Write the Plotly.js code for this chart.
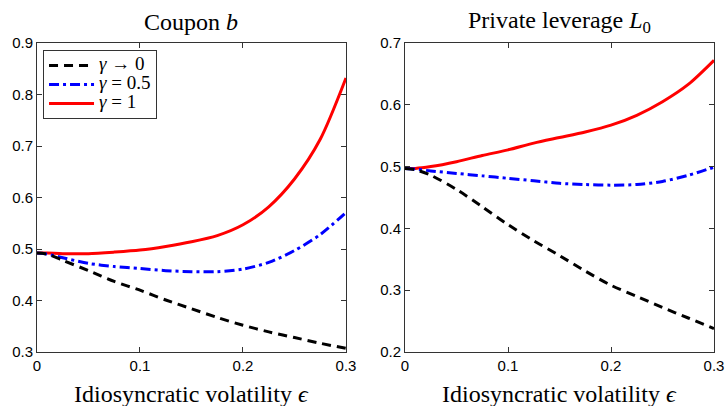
<!DOCTYPE html>
<html>
<head>
<meta charset="utf-8">
<script src="https://cdn.plot.ly/plotly-3.0.1.min.js"></script>
<style>html,body{margin:0;padding:0;background:#fff;}#chart{width:725px;height:406px;}</style>
</head>
<body>
<div id="chart"></div>
<script>
// Idiosyncratic volatility epsilon
const eps = [0, 0.01, 0.025, 0.05, 0.075, 0.1, 0.125, 0.15, 0.175, 0.2, 0.225, 0.25, 0.275, 0.3];

// Coupon b
const couponGamma0  = [0.492, 0.490, 0.478, 0.458, 0.437, 0.420, 0.401, 0.384, 0.367, 0.352, 0.339, 0.328, 0.317, 0.307];
const couponGamma05 = [0.492, 0.490, 0.483, 0.472, 0.466, 0.462, 0.458, 0.456, 0.456, 0.461, 0.474, 0.497, 0.528, 0.571];
const couponGamma1  = [0.492, 0.492, 0.491, 0.491, 0.494, 0.498, 0.505, 0.514, 0.526, 0.547, 0.582, 0.636, 0.713, 0.832];

// Private leverage L0
const levGamma0  = [0.497, 0.495, 0.486, 0.463, 0.435, 0.406, 0.380, 0.356, 0.331, 0.308, 0.290, 0.272, 0.255, 0.238];
const levGamma05 = [0.497, 0.496, 0.493, 0.489, 0.485, 0.481, 0.477, 0.473, 0.471, 0.470, 0.471, 0.476, 0.486, 0.499];
const levGamma1  = [0.497, 0.497, 0.500, 0.508, 0.518, 0.527, 0.538, 0.547, 0.556, 0.567, 0.583, 0.605, 0.633, 0.672];

const seriesNames = ['<i>γ</i> → 0', '<i>γ</i> = 0.5', '<i>γ</i> = 1'];
const panelTitles = ['Coupon <i>b</i>', 'Private leverage <i>L</i><sub>0</sub>'];
const xTitle = 'Idiosyncratic volatility <i>ϵ</i>';
const xTickVals = [0, 0.1, 0.2, 0.3];
const xTickText = ['0', '0.1', '0.2', '0.3'];
const yLeftTickVals = [0.3, 0.4, 0.5, 0.6, 0.7, 0.8, 0.9];
const yLeftTickText = ['0.3', '0.4', '0.5', '0.6', '0.7', '0.8', '0.9'];
const yRightTickVals = [0.2, 0.3, 0.4, 0.5, 0.6, 0.7];
const yRightTickText = ['0.2', '0.3', '0.4', '0.5', '0.6', '0.7'];

const styles = [
  {color: '#000000', width: 3, dash: '9px,6px'},
  {color: '#0000ff', width: 3, dash: '10px,4px,3px,4px'},
  {color: '#ff0000', width: 3, dash: 'solid'}
];

function mk(y, i, xa, ya, show) {
  return {
    x: eps, y: y, type: 'scatter', mode: 'lines',
    name: '<span style="font-size:19px">' + seriesNames[i] + '</span>',
    legendgroup: 'g' + i, showlegend: show,
    line: Object.assign({shape: 'spline', smoothing: 0.8}, styles[i]),
    xaxis: xa, yaxis: ya, hoverinfo: 'skip'
  };
}

const data = [
  mk(couponGamma1, 2, 'x', 'y', true),
  mk(couponGamma05, 1, 'x', 'y', true),
  mk(couponGamma0, 0, 'x', 'y', true),
  mk(levGamma1, 2, 'x2', 'y2', false),
  mk(levGamma05, 1, 'x2', 'y2', false),
  mk(levGamma0, 0, 'x2', 'y2', false)
];

const serif = 'Liberation Serif, serif';
const sans = 'Liberation Sans, Arial, sans-serif';

function xax(domain, anchor) {
  return {
    domain: domain, anchor: anchor, range: [0, 0.3],
    tickvals: xTickVals, ticktext: xTickText,
    ticks: 'inside', ticklen: 5, tickcolor: '#333', tickwidth: 1,
    showline: true, linecolor: '#333', linewidth: 1, mirror: 'ticks',
    showgrid: false, zeroline: false,
    tickfont: {family: sans, size: 15, color: '#000'}
  };
}
function yax(domain, anchor, range, tv, tt) {
  return {
    domain: domain, anchor: anchor, range: range,
    tickvals: tv, ticktext: tt,
    ticks: 'inside', ticklen: 5, tickcolor: '#333', tickwidth: 1,
    showline: true, linecolor: '#333', linewidth: 1, mirror: 'ticks',
    showgrid: false, zeroline: false,
    tickfont: {family: sans, size: 15, color: '#000'}
  };
}
function ann(text, x, y) {
  return {text: text, xref: 'paper', yref: 'paper', x: x, y: y, xanchor: 'center', yanchor: 'middle',
          showarrow: false, font: {family: serif, size: 24, color: '#000'}};
}

const layout = {
  width: 725, height: 406,
  margin: {l: 37, r: 11, t: 43, b: 54},
  paper_bgcolor: '#fff', plot_bgcolor: '#fff',
  xaxis: xax([0, 0.4564], 'y'),
  yaxis: yax([0, 1], 'x', [0.3, 0.9], yLeftTickVals, yLeftTickText),
  xaxis2: xax([0.5436, 1], 'y2'),
  yaxis2: yax([0, 1], 'x2', [0.2, 0.7], yRightTickVals, yRightTickText),
  showlegend: true,
  legend: {
    x: 0.0089, y: 0.977, xanchor: 'left', yanchor: 'top',
    traceorder: 'reversed',
    bgcolor: '#fff', bordercolor: '#333', borderwidth: 1,
    font: {family: serif, size: 12, color: '#000'},
    itemwidth: 45,
    tracegroupgap: 0
  },
  annotations: [
    ann(panelTitles[0], 0.2282, 1.068),
    ann(panelTitles[1], 0.7718, 1.068),
    ann(xTitle, 0.2282, -0.137),
    ann(xTitle, 0.7718, -0.137)
  ]
};

Plotly.newPlot('chart', data, layout, {displayModeBar: false, staticPlot: true});
</script>
</body>
</html>
